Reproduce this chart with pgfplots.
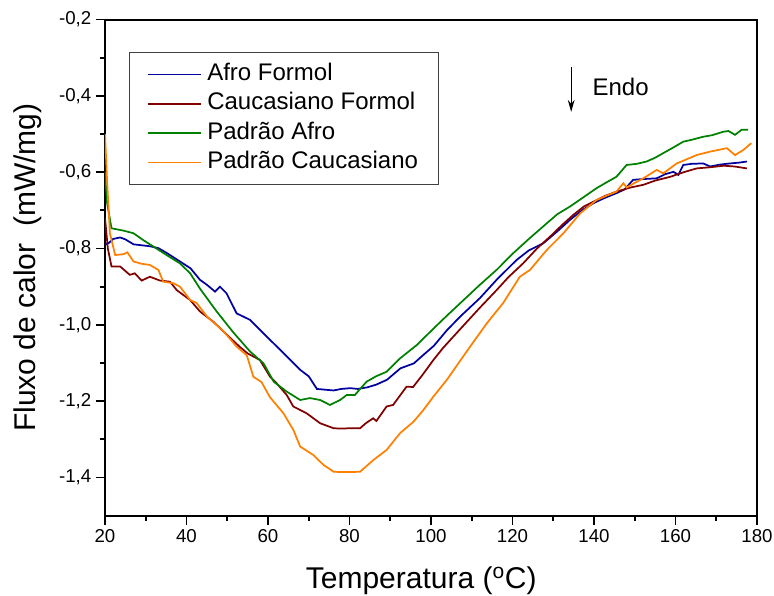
\documentclass[border=0pt]{standalone}
\usepackage{fontspec}
\setmainfont{Liberation Sans}
\usepackage{pgfplots}
\pgfplotsset{compat=1.18}
\usetikzlibrary{arrows.meta}

\definecolor{afro}{RGB}{0,0,160}
\definecolor{caucform}{RGB}{128,0,0}
\definecolor{padafro}{RGB}{0,128,0}
\definecolor{padcauc}{RGB}{255,128,0}

\begin{document}
\begin{tikzpicture}
\begin{axis}[
    name=ax,
    scale only axis,
    width=489pt, height=372pt,
    xmin=20, xmax=180,
    ymin=-1.5, ymax=-0.2,
    xtick={20,40,...,180},
    ytick={-1.4,-1.2,...,-0.2},
    minor x tick num=1,
    minor y tick num=1,
    tick pos=left,
    tick align=outside,
    major tick length=6.75pt,
    minor tick length=3.75pt,
    every tick/.style={black, line width=1.3pt},
    axis line style={line width=1.5pt},
    tick label style={font=\fontsize{14}{16}\selectfont},
    /pgf/number format/assume math mode=true,
    xticklabel style={/pgf/number format/.cd, fixed, precision=0},
    yticklabel style={/pgf/number format/.cd, fixed, fixed zerofill, precision=1, use comma},
    xlabel={Temperatura (\textsuperscript{o}C)},
    ylabel={Fluxo de calor\ \ (mW/mg)},
    every axis x label/.style={at={(axis description cs:0.485,-0.1464)}, anchor=base, font=\fontsize{22.5}{26}\selectfont},
    every axis y label/.style={at={(axis description cs:-0.106,0.5)}, rotate=90, anchor=base, font=\fontsize{22.5}{26}\selectfont},
    legend image code/.code={\draw[#1] (0pt,0pt) -- (40pt,0pt);},
    legend style={
        at={(axis description cs:0.0368,0.935)}, anchor=north west,
        draw=black!75, line width=0.8pt,
        font=\fontsize{18}{21}\selectfont,
        inner xsep=13pt, inner ysep=5.5pt,
        row sep=0pt, column sep=2pt,
        cells={anchor=west},
        nodes={inner sep=2pt, text height=13.6pt, text depth=4.4pt},
    },
    legend cell align=left,
    every axis plot/.append style={line width=1.3pt},
]

\addplot[afro] coordinates {
(20,-0.79) (21,-0.785) (22,-0.775) (23.7,-0.771) (25,-0.776) (27,-0.789) (29.4,-0.792) (31,-0.794)
(33.1,-0.799) (35.2,-0.812) (38.4,-0.834) (41,-0.852) (43.3,-0.882) (45,-0.895) (47,-0.913) (48.2,-0.900)
(49.8,-0.917) (52.3,-0.97) (55.6,-0.987) (59.7,-1.031) (63.8,-1.074) (67.9,-1.118) (70,-1.135) (72,-1.168)
(74,-1.17) (76.1,-1.172) (78,-1.168) (80.2,-1.166) (82,-1.168) (84.3,-1.164) (86.5,-1.157) (89.2,-1.144)
(92.5,-1.114) (95.8,-1.101) (98,-1.08) (100.7,-1.055) (104,-1.013) (107.5,-0.975) (112,-0.93) (116.1,-0.882)
(121,-0.83) (124,-0.805) (127.6,-0.786) (131,-0.755) (134.1,-0.725) (137,-0.70) (139.9,-0.681) (142.5,-0.668)
(145.5,-0.655) (147.5,-0.645) (149.6,-0.62) (152,-0.618) (155.4,-0.616) (157.5,-0.605) (159.5,-0.599)
(160.7,-0.607) (161.9,-0.581) (164,-0.578) (166.8,-0.577) (168.5,-0.585) (170.9,-0.58) (173.4,-0.577)
(175.5,-0.575) (177.5,-0.572)
};
\addlegendentry{Afro Formol}

\addplot[caucform] coordinates {
(20,-0.72) (20.7,-0.80) (21.6,-0.847) (23.7,-0.847) (26.1,-0.869) (27.3,-0.865) (29,-0.884) (31,-0.874)
(33.5,-0.884) (35.95,-0.887) (37.6,-0.909) (40.9,-0.935) (43.3,-0.965) (46.6,-0.992) (49.9,-1.026)
(53.1,-1.058) (55,-1.075) (58,-1.092) (60.5,-1.136) (62.1,-1.153) (64.6,-1.184) (66.2,-1.214) (69.5,-1.232)
(72.8,-1.258) (76.1,-1.271) (78,-1.272) (80.1,-1.271) (82.6,-1.271) (84,-1.258) (85.8,-1.245) (86.6,-1.252)
(89.1,-1.214) (90.7,-1.21) (94,-1.162) (95.6,-1.163) (98,-1.13) (100.6,-1.092) (103,-1.06) (107.1,-1.012)
(112,-0.955) (116.1,-0.909) (119,-0.875) (122.6,-0.839) (126,-0.80) (129.2,-0.769) (132,-0.74) (134.9,-0.712)
(137.5,-0.69) (139.9,-0.677) (142.5,-0.663) (145.5,-0.651) (149,-0.64) (152.1,-0.633) (155,-0.622)
(158.7,-0.612) (162,-0.60) (165.2,-0.59) (168.5,-0.587) (171.8,-0.583) (174.5,-0.585) (177.5,-0.59)
};
\addlegendentry{Caucasiano Formol}

\addplot[padafro] coordinates {
(20,-0.60) (20.5,-0.68) (21.6,-0.747) (24.5,-0.753) (27,-0.76) (29.4,-0.778) (31.9,-0.795) (35.1,-0.817)
(38.4,-0.839) (40.9,-0.865) (43.3,-0.905) (47.4,-0.965) (51.5,-1.02) (55.6,-1.07) (58.9,-1.101) (61.4,-1.149)
(64.6,-1.175) (67.9,-1.197) (70.3,-1.192) (72.8,-1.197) (75.2,-1.21) (77.7,-1.197) (79.3,-1.184) (81.3,-1.184)
(84.2,-1.149) (86.5,-1.135) (89.1,-1.123) (92.4,-1.088) (96.5,-1.053) (100.6,-1.01) (104,-0.975) (107.5,-0.94)
(112,-0.895) (116.1,-0.856) (120.2,-0.812) (124,-0.775) (128.4,-0.734) (131,-0.71) (134.1,-0.69) (137.5,-0.665)
(140.6,-0.642) (143,-0.627) (145.5,-0.612) (148,-0.581) (150.5,-0.578) (152.9,-0.572) (155,-0.562) (157,-0.55)
(159.5,-0.535) (161.9,-0.52) (164,-0.515) (166.8,-0.507) (169,-0.503) (171.7,-0.494) (173,-0.492)
(174.6,-0.502) (176.2,-0.489) (177.8,-0.489)
};
\addlegendentry{Padrão Afro}

\addplot[padcauc] coordinates {
(20,-0.50) (20.5,-0.62) (21.2,-0.76) (22.5,-0.817) (24.5,-0.815) (25.5,-0.810) (27,-0.834) (29,-0.84)
(31,-0.843) (33.1,-0.856) (34.3,-0.887) (36.8,-0.891) (38.4,-0.90) (40.9,-0.935) (42.5,-0.943) (45,-0.978)
(49,-1.016) (52.3,-1.057) (54.8,-1.08) (56.4,-1.136) (58.4,-1.15) (60.5,-1.19) (63.8,-1.232) (66.2,-1.275)
(67.9,-1.319) (71.1,-1.341) (73.6,-1.367) (76.1,-1.385) (78,-1.386) (80.1,-1.386) (82.6,-1.385) (85.9,-1.354)
(89.1,-1.328) (92.4,-1.284) (95.7,-1.254) (98,-1.225) (100.6,-1.188) (103.9,-1.144) (107.3,-1.092)
(109.6,-1.057) (113.7,-0.996) (117.7,-0.943) (121.8,-0.874) (124.3,-0.856) (128.4,-0.804) (132.5,-0.76)
(136.6,-0.708) (140.6,-0.673) (143,-0.662) (145.5,-0.651) (147.2,-0.629) (148,-0.64) (150,-0.628)
(152.1,-0.616) (155.4,-0.594) (157,-0.603) (160.3,-0.577) (163,-0.565) (165.2,-0.555) (168.5,-0.546)
(172.6,-0.537) (174.6,-0.555) (176.6,-0.542) (178.6,-0.524)
};
\addlegendentry{Padrão Caucasiano}

% Endo marker
\draw[-{Stealth[length=9pt,width=5pt]}, line width=1pt] (axis cs:134.4,-0.324) -- (axis cs:134.4,-0.442);
\node[anchor=west, font=\fontsize{18}{21}\selectfont] at (axis cs:138.5,-0.376) {Endo};
\end{axis}
\pgfresetboundingbox
\path ([xshift=-78.75pt,yshift=-60.2pt]ax.south west) rectangle ([xshift=12.75pt,yshift=14.7pt]ax.north east);
\end{tikzpicture}
\end{document}
